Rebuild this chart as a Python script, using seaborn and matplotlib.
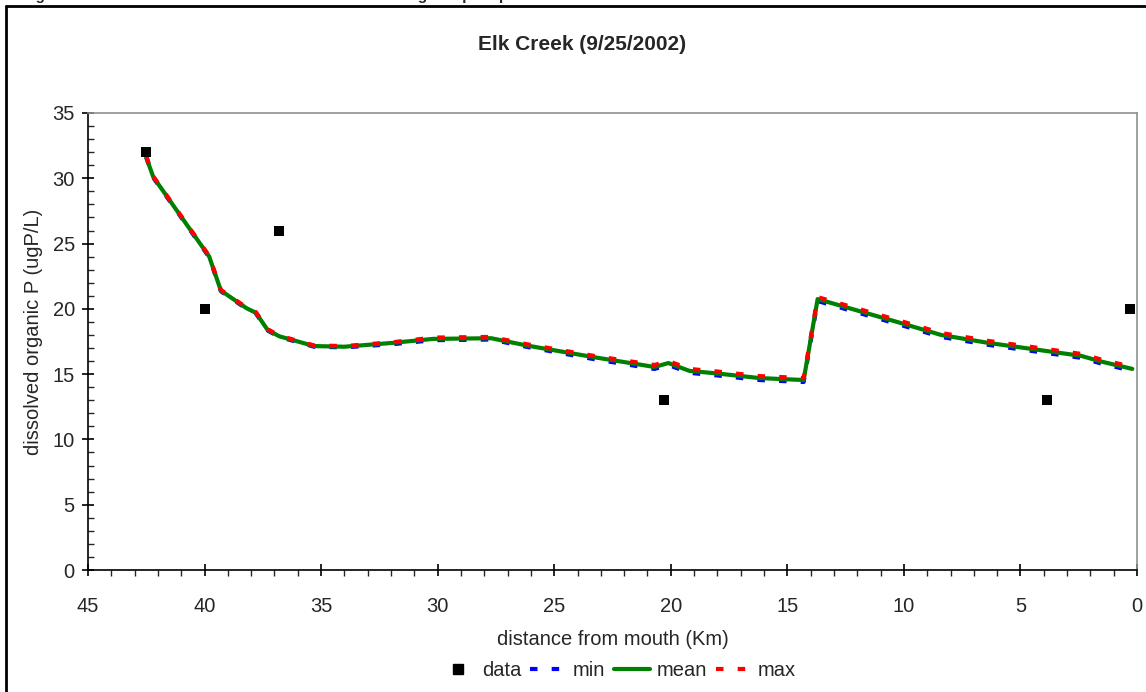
import matplotlib
matplotlib.use("Agg")
import matplotlib.pyplot as plt
from matplotlib.lines import Line2D
from matplotlib.ticker import MultipleLocator
import seaborn as sns

# observed data
obs_km = [42.5, 40.0, 36.8, 20.3, 3.85, 0.3]
obs_val = [32, 20, 26, 13, 13, 20]

# model output along the creek
model_km = [42.5, 42.2, 39.8, 39.3, 38.2, 37.8, 37.3, 36.8, 35.3, 34.0, 31.9, 30.2,
            27.7, 26.2, 23.3, 20.7, 20.1, 19.2, 18.0, 16.2, 14.3, 13.7, 10.2, 8.4,
            6.4, 4.4, 2.4, 1.5, 0.2]
model_mean = [31.6, 30.1, 24.0, 21.4, 20.05, 19.7, 18.4, 17.9, 17.15, 17.1, 17.4, 17.7,
              17.75, 17.2, 16.3, 15.55, 15.85, 15.25, 15.05, 14.7, 14.55, 20.75, 18.95, 18.0,
              17.4, 16.9, 16.4, 15.95, 15.4]
model_min = [31.6, 30.05, 23.95, 21.35, 20.0, 19.65, 18.35, 17.85, 17.1, 17.05, 17.3, 17.6,
             17.65, 17.1, 16.15, 15.4, 15.7, 15.1, 14.9, 14.55, 14.4, 20.6, 18.8, 17.85,
             17.25, 16.75, 16.25, 15.8, 15.25]
model_max = [31.7, 30.15, 24.05, 21.45, 20.1, 19.75, 18.45, 17.95, 17.2, 17.15, 17.45, 17.8,
             17.85, 17.3, 16.4, 15.7, 16.0, 15.4, 15.2, 14.85, 14.7, 20.9, 19.1, 18.15,
             17.55, 17.05, 16.55, 16.1, 15.55]

sns.set_style("white")
plt.rcParams['font.family'] = ['Liberation Sans', 'DejaVu Sans']

FS = 14.5
DASH = (0, (1.8, 3.4))

fig = plt.figure(figsize=(11.46, 6.92), dpi=100)
ax = fig.add_axes([88 / 1146, 1 - 570 / 692, (1137 - 88) / 1146, (570 - 113) / 692])

sns.scatterplot(x=obs_km, y=obs_val, ax=ax, marker='s', s=52, color='black',
                edgecolor='black', linewidth=0, zorder=5)
sns.lineplot(x=model_km, y=model_mean, ax=ax, color='#008000', linewidth=3.0,
             sort=False, estimator=None, zorder=3)
sns.lineplot(x=model_km, y=model_min, ax=ax, color='#0000ff', linewidth=3.0,
             sort=False, estimator=None, zorder=2, linestyle=DASH)
sns.lineplot(x=model_km, y=model_max, ax=ax, color='#ff0000', linewidth=3.0,
             sort=False, estimator=None, zorder=4, linestyle=DASH)

ax.set_xlim(45, 0)
ax.set_ylim(0, 35)
ax.xaxis.set_major_locator(MultipleLocator(5))
ax.xaxis.set_minor_locator(MultipleLocator(1))
ax.yaxis.set_major_locator(MultipleLocator(5))
ax.yaxis.set_minor_locator(MultipleLocator(1))
ax.tick_params(which='major', direction='inout', length=9, width=1.2, color='black',
               labelsize=FS, left=True, bottom=True)
ax.tick_params(axis='x', which='minor', direction='out', length=4, width=1, bottom=True)
ax.tick_params(axis='y', which='minor', direction='in', length=4, width=1, left=True)
ax.tick_params(axis='x', which='major', pad=15)
ax.tick_params(axis='y', which='major', pad=5)
for side in ['left', 'bottom']:
    ax.spines[side].set_color('black')
    ax.spines[side].set_linewidth(1.2)
for side in ['top', 'right']:
    ax.spines[side].set_color('#909090')
    ax.spines[side].set_linewidth(1.2)

ax.set_xlabel('distance from mouth (Km)', fontsize=FS)
ax.xaxis.set_label_coords(0.5, (570 - 630) / 457)
ax.set_ylabel('dissolved organic P (ugP/L)', fontsize=FS)
ax.yaxis.set_label_coords((43 - 88) / 1049, (570 - 332) / 457)

fig.text(582 / 1146, 1 - 44 / 692, 'Elk Creek (9/25/2002)', ha='center', va='center',
         fontsize=15, fontweight='bold')

# clipped caption at the very top of the page
fig.text(22 / 1146, 1.0, 'Figure 27. Model calibration for Elk Creek dissolved organic phosphorus',
         ha='left', va='baseline', fontsize=11, fontweight='bold')

# outer frame
fig.add_artist(Line2D([6 / 1146, 1.0], [1 - 6 / 692, 1 - 6 / 692], transform=fig.transFigure,
                      color='black', linewidth=2))
fig.add_artist(Line2D([6 / 1146, 6 / 1146], [0.0, 1 - 6 / 692], transform=fig.transFigure,
                      color='black', linewidth=2))

handles = [
    Line2D([], [], marker='s', linestyle='none', color='black', markersize=7.2),
    Line2D([], [], color='#0000ff', linewidth=3.0, linestyle=DASH),
    Line2D([], [], color='#008000', linewidth=3.0),
    Line2D([], [], color='#ff0000', linewidth=3.0, linestyle=DASH),
]
fig.legend(handles, ['data', 'min', 'mean', 'max'], loc='center',
           bbox_to_anchor=(618 / 1146, 1 - 671 / 692), ncol=4, frameon=False,
           fontsize=FS, handlelength=1.8, handletextpad=0.3, columnspacing=0.45,
           borderpad=0.2)

fig.savefig('out.png', dpi=100)
